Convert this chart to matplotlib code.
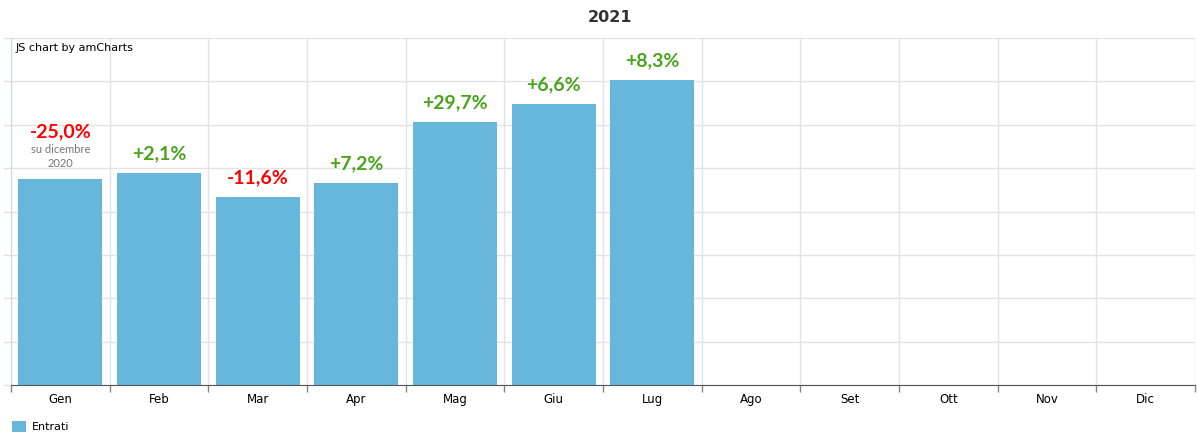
import numpy as np
import matplotlib
matplotlib.use("Agg")
from matplotlib import pyplot as plt
from matplotlib.patches import Patch

# monthly values (arbitrary units), 2021
months = ['Gen', 'Feb', 'Mar', 'Apr', 'Mag', 'Giu', 'Lug', 'Ago', 'Set', 'Ott', 'Nov', 'Dic']
entrati = [4.75, 4.89, 4.33, 4.66, 6.06, 6.48, 7.03]
changes = ['-25,0%', '+2,1%', '-11,6%', '+7,2%', '+29,7%', '+6,6%', '+8,3%']

bar_color = '#67b7dc'
grid_color = '#e3e3e3'

fig = plt.figure(figsize=(11.97, 4.34), dpi=100)
ax = fig.add_axes([11 / 1197, 49 / 434, 1184 / 1197, 347 / 434])

x = np.arange(len(months))
ax.bar(x[:len(entrati)], entrati, width=0.85, color=bar_color, zorder=2)

ax.set_xlim(-0.5, len(months) - 0.5)
ax.set_ylim(0, 8)

# grid: horizontal lines, vertical lines at category boundaries
ax.set_yticks(np.arange(0, 9))
ax.set_yticklabels([])
ax.set_xticks(x)
ax.set_xticklabels(months, fontsize=8.5, color='#000000', family='DejaVu Sans')
ax.set_xticks(np.arange(-0.5, len(months)), minor=True)
ax.tick_params(axis='x', which='major', length=0, pad=6)
ax.tick_params(axis='x', which='minor', length=5, color='#888888', width=1)
ax.tick_params(axis='y', length=6, color=grid_color, width=1)
ax.grid(axis='y', color=grid_color, lw=1, zorder=0)
ax.grid(axis='x', which='minor', color=grid_color, lw=1, zorder=0)

for s in ['top', 'right']:
    ax.spines[s].set_visible(False)
ax.spines['left'].set_color('#c9dbe6')
ax.spines['bottom'].set_color('#555555')
ax.spines['bottom'].set_zorder(3)

# percentage labels above bars
for i, (v, lab) in enumerate(zip(entrati, changes)):
    col = '#ff0000' if lab.startswith('-') else '#4aa31c'
    off = 19 if i > 0 else 47
    ax.annotate(lab, (i, v), xytext=(0, off), textcoords='offset points' if False else 'offset pixels',
                ha='center', va='center', fontsize=14, fontweight='bold', color=col, family='Lato')
ax.annotate('su dicembre', (0, entrati[0]), xytext=(0, 29), textcoords='offset pixels',
            ha='center', va='center', fontsize=8, color='#777777', family='Lato')
ax.annotate('2020', (0, entrati[0]), xytext=(0, 15), textcoords='offset pixels',
            ha='center', va='center', fontsize=8, color='#777777', family='Lato')

ax.text(5 / 1184, 1 - 10 / 347, 'JS chart by amCharts', transform=ax.transAxes,
        ha='left', va='center', fontsize=8, color='#000000')

fig.text(610 / 1197, 1 - 18 / 434, '2021', ha='center', va='center',
         fontsize=11.5, fontweight='bold', color='#333333')

fig.legend(handles=[Patch(facecolor=bar_color, edgecolor='none')], labels=['Entrati'],
           loc='lower left', bbox_to_anchor=(2 / 1197, -8 / 434), frameon=False,
           fontsize=8, handlelength=1.3, handleheight=1.1, handletextpad=0.5)

fig.savefig('out.png', dpi=100)
